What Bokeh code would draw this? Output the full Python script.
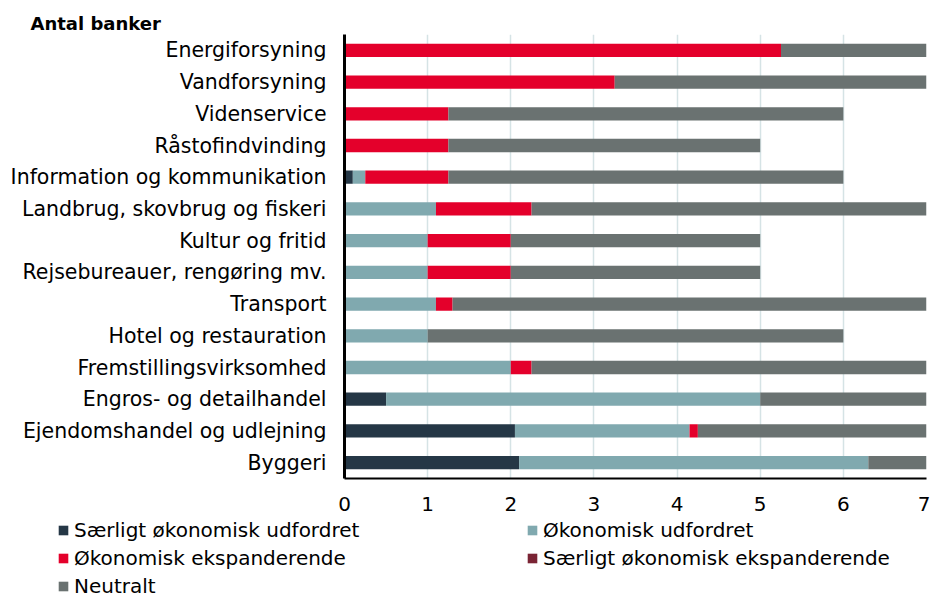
from bokeh.plotting import figure
from bokeh.layouts import column
from bokeh.models import FactorRange, Legend, LegendItem, ColumnDataSource, Range1d, SingleIntervalTicker
from bokeh.embed import file_html
from bokeh.resources import INLINE

categories = ["Energiforsyning", "Vandforsyning", "Videnservice", "Råstofindvinding",
              "Information og kommunikation", "Landbrug, skovbrug og fiskeri",
              "Kultur og fritid", "Rejsebureauer, rengøring mv.", "Transport",
              "Hotel og restauration", "Fremstillingsvirksomhed",
              "Engros- og detailhandel", "Ejendomshandel og udlejning", "Byggeri"]
saerligt_udfordret = [0, 0, 0, 0, 0.1, 0, 0, 0, 0, 0, 0, 0.5, 2.05, 2.1]
udfordret = [0, 0, 0, 0, 0.15, 1.1, 1.0, 1.0, 1.1, 1.0, 2.0, 4.5, 2.1, 4.2]
ekspanderende = [5.25, 3.25, 1.25, 1.25, 1.0, 1.15, 1.0, 1.0, 0.2, 0, 0.25, 0, 0.1, 0]
saerligt_ekspanderende = [0, 0, 0, 0, 0, 0, 0, 0, 0, 0, 0, 0, 0, 0]
neutralt = [1.75, 3.75, 4.75, 3.75, 4.75, 4.75, 3.0, 3.0, 5.7, 5.0, 4.75, 2.0, 2.75, 0.7]

series_names = ["Særligt økonomisk udfordret", "Økonomisk udfordret",
                "Økonomisk ekspanderende", "Særligt økonomisk ekspanderende", "Neutralt"]
keys = ["su", "u", "e", "se", "n"]
colors = ["#253746", "#80A9AF", "#E4002B", "#7A2434", "#6A7271"]

source = ColumnDataSource(dict(cat=categories, su=saerligt_udfordret, u=udfordret,
                               e=ekspanderende, se=saerligt_ekspanderende, n=neutralt))

FONT = "DejaVu Sans"

p = figure(width=930, height=518, output_backend="svg", toolbar_location=None,
           y_range=FactorRange(factors=list(reversed(categories))),
           x_range=Range1d(0, 7),
           min_border_left=344, min_border_right=4, min_border_top=34, min_border_bottom=40)

renderers = p.hbar_stack(keys, y="cat", height=0.42, color=colors, line_color=None,
                         source=source)

p.title.text = "Antal banker"
p.title.text_font = FONT
p.title.text_font_style = "bold"
p.title.text_font_size = "18px"
p.title.text_color = "black"
p.title.align = "left"
p.title.offset = -314
p.title.standoff = 2

p.outline_line_color = None
p.ygrid.grid_line_color = None
p.xgrid.grid_line_color = "#D5E3E5"
p.xgrid.grid_line_width = 1.5
p.xaxis.ticker = SingleIntervalTicker(interval=1)

for ax in (p.xaxis[0], p.yaxis[0]):
    ax.axis_line_color = "black"
    ax.major_tick_line_color = None
    ax.minor_tick_line_color = None
    ax.major_tick_out = 0
    ax.major_tick_in = 0
    ax.major_label_text_font = FONT
    ax.major_label_text_font_size = "20px"
    ax.major_label_text_color = "black"
p.yaxis.major_label_text_font_size = "20.5px"
p.yaxis.axis_line_width = 3
p.xaxis.axis_line_width = 2
p.yaxis.major_label_standoff = 18
p.xaxis.major_label_standoff = 14

# legend strip below the chart
lf = figure(width=930, height=80, output_backend="svg", toolbar_location=None,
            x_range=Range1d(0, 7), y_range=FactorRange(factors=list(reversed(categories))),
            min_border_left=0, min_border_right=0, min_border_top=0, min_border_bottom=0)
lf.frame_align = False
lf.axis.visible = False
lf.grid.grid_line_color = None
lf.outline_line_color = None
lrs = lf.hbar_stack(keys, y="cat", height=0.42, color=colors, line_color=None, source=source)
for r in lrs:
    r.visible = False

common = dict(glyph_width=12, glyph_height=12, label_standoff=5, label_height=20,
              spacing=4, padding=0, margin=0, border_line_color=None,
              background_fill_alpha=0, label_text_font=FONT, label_text_font_size="20px",
              label_text_color="black",
              orientation="vertical", inactive_fill_alpha=0, click_policy="none")
left_idx = [0, 2, 4]
right_idx = [1, 3]
leg1 = Legend(items=[LegendItem(label=series_names[i], renderers=[lrs[i]]) for i in left_idx],
              location=(57, 0), **common)
leg2 = Legend(items=[LegendItem(label=series_names[i], renderers=[lrs[i]]) for i in right_idx],
              location=(526, 28), **common)
lf.add_layout(leg1, "center")
lf.add_layout(leg2, "center")

layout = column(p, lf, spacing=0)
open("out.html", "w").write(file_html(layout, INLINE))
